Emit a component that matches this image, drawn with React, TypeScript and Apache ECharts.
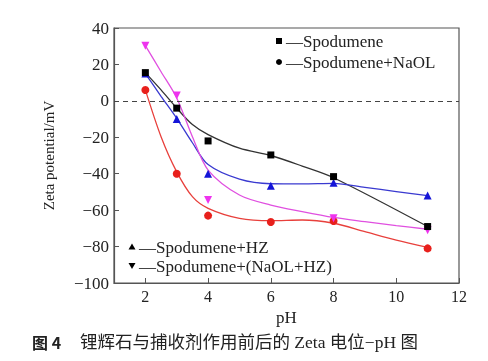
import React, { useEffect, useRef } from "react";
import * as echarts from "echarts";

const xTicks = [2, 4, 6, 8, 10, 12];

// measured points
const spodumene = [[2, 15.5], [3, -4], [4, -22], [6, -29.7], [8, -41.6], [11, -69]];
const spodNaOL = [[2, 6], [3, -40], [4, -63], [6, -66.5], [8, -66], [11, -81]];
const spodHZ = [[2, 15], [3, -10], [4, -40], [6, -46.6], [8, -45], [11, -52]];
const spodNaOLHZ = [[2, 30.3], [3, 3], [4, -54.4], [8, -64.5], [11, -71]];

// fitted curves
const fitSpodumene = [[2, 15.5], [2.5, 6], [3, -4], [3.5, -13], [4, -18.5], [5, -26], [6, -30], [7, -35.8], [8, -42.2], [11, -69]];
const fitNaOL = [[2, 6], [2.5, -19.7], [3, -39], [3.5, -52.6], [4, -59], [5, -64.5], [6, -65.8], [7, -65.4], [8, -67.2], [9, -71.8], [10, -76.4], [11, -80.4]];
const fitHZ = [[2, 15], [2.5, 2.5], [3, -9.6], [3.5, -23], [4, -35], [5, -43], [6, -45.5], [7, -45.6], [8, -45.3], [9, -47.5], [10, -49.8], [11, -52]];
const fitNaOLHZ = [[2, 30.3], [2.5, 16], [3, 1.6], [3.5, -19.7], [4, -38], [5, -51.7], [6, -57.2], [7, -60.8], [8, -64], [9, -66.3], [10, -68.5], [11, -70.5]];

const legendTop = ["Spodumene", "Spodumene+NaOL"];
const legendBottom = ["Spodumene+HZ", "Spodumene+(NaOL+HZ)"];

const SERIF = '"Liberation Serif", "Times New Roman", serif';

export default function App() {
  const ref = useRef<HTMLDivElement>(null);
  useEffect(() => {
    document.body.style.margin = "0";
    const chart = echarts.init(ref.current!, null, { renderer: "svg" });
    const fmt = (v: number) => (v < 0 ? "\u2212" + Math.abs(v) : String(v));
    const curve = (name: string, data: number[][], lineColor: string) => ({
      name: name + " fit",
      type: "line",
      data,
      smooth: 0.3,
      symbol: "none",
      lineStyle: { color: lineColor, width: 1.3 },
      z: 2,
    });
    const pts = (name: string, data: number[][], color: string, symbol: string, size: number, rotate = 0) => ({
      name,
      type: "scatter",
      data,
      symbol,
      symbolSize: size,
      symbolRotate: rotate,
      itemStyle: { color, opacity: 1 },
      z: 3,
    });
    chart.setOption({
      animation: false,
      grid: { left: 114, right: 29, top: 28, bottom: 78, show: true, borderColor: "#555", borderWidth: 1.2, backgroundColor: "transparent" },
      xAxis: {
        type: "value",
        min: 1,
        max: 12,
        name: "pH",
        nameLocation: "middle",
        nameGap: 26,
        nameTextStyle: { fontFamily: SERIF, fontSize: 17, color: "#222" },
        axisLine: { show: true, onZero: false, lineStyle: { color: "#555", width: 1.2 } },
        axisTick: { show: true, inside: true, length: 5, customValues: xTicks, lineStyle: { color: "#555" } },
        axisLabel: { customValues: xTicks, fontFamily: SERIF, fontSize: 16, color: "#222", margin: 5 },
        splitLine: { show: false },
      },
      yAxis: {
        type: "value",
        min: -100,
        max: 40,
        interval: 20,
        name: "Zeta potential/mV",
        nameLocation: "middle",
        nameGap: 58,
        nameTextStyle: { fontFamily: SERIF, fontSize: 15, color: "#222" },
        axisLine: { show: true, lineStyle: { color: "#555", width: 1.2 } },
        axisTick: { show: true, inside: true, length: 5, lineStyle: { color: "#555" } },
        axisLabel: { fontFamily: SERIF, fontSize: 17, color: "#222", margin: 5, formatter: fmt },
        splitLine: { show: false },
      },
      series: [
        {
          ...curve("Spodumene", fitSpodumene, "#333"),
          markLine: {
            silent: true,
            symbol: "none",
            label: { show: false },
            lineStyle: { color: "#444", type: [5, 4], width: 1.2 },
            data: [{ yAxis: 0 }],
          },
        },
        curve("Spodumene+NaOL", fitNaOL, "#e8403c"),
        curve("Spodumene+HZ", fitHZ, "#3a3ad0"),
        curve("Spodumene+(NaOL+HZ)", fitNaOLHZ, "#e050e0"),
        pts("Spodumene+NaOL", spodNaOL, "#e8201c", "circle", 8),
        pts("Spodumene+(NaOL+HZ)", spodNaOLHZ, "#ee33ee", "triangle", 8, 180),
        pts("Spodumene+HZ", spodHZ, "#1515d8", "triangle", 8),
        pts("Spodumene", spodumene, "#000", "rect", 7),
      ],
      graphic: [
        { type: "rect", shape: { x: 276, y: 38, width: 6, height: 6 }, style: { fill: "#000" } },
        { type: "text", x: 286, y: 41.5, style: { text: "\u2014" + legendTop[0], font: `17px ${SERIF}`, fill: "#222", verticalAlign: "middle" } },
        { type: "circle", shape: { cx: 279, cy: 62, r: 3 }, style: { fill: "#000" } },
        { type: "text", x: 286, y: 62.5, style: { text: "\u2014" + legendTop[1], font: `17px ${SERIF}`, fill: "#222", verticalAlign: "middle" } },
        { type: "polygon", shape: { points: [[132, 243.5], [128.5, 249.5], [135.5, 249.5]] }, style: { fill: "#000" } },
        { type: "text", x: 139, y: 247, style: { text: "\u2014" + legendBottom[0], font: `17px ${SERIF}`, fill: "#222", verticalAlign: "middle" } },
        { type: "polygon", shape: { points: [[128.5, 263], [135.5, 263], [132, 269]] }, style: { fill: "#000" } },
        { type: "text", x: 139, y: 266, style: { text: "\u2014" + legendBottom[1], font: `17px ${SERIF}`, fill: "#222", verticalAlign: "middle" } },
        { type: "text", x: 32, y: 342, style: { text: "图 4", font: `bold 16px "Noto Sans CJK SC", ${SERIF}`, fill: "#222", verticalAlign: "middle" } },
        { type: "text", x: 80, y: 342, style: { text: "锂辉石与捕收剂作用前后的 Zeta 电位\u2212pH 图", font: `17.5px ${SERIF}, "Noto Sans CJK SC"`, fill: "#222", verticalAlign: "middle" } },
      ],
    });
    return () => chart.dispose();
  }, []);
  return <div ref={ref} style={{ position: "fixed", left: 0, top: 0, width: 488, height: 361 }} />;
}
